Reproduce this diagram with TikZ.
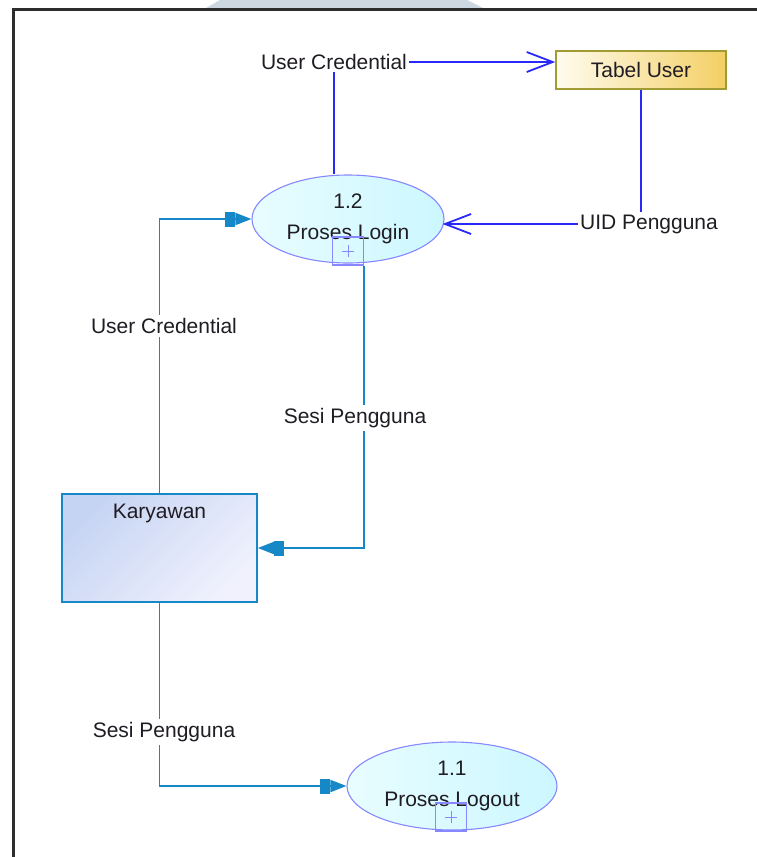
\documentclass[tikz,border=0pt]{standalone}
\usepackage{fontspec}
\setmainfont{Liberation Sans}
\usetikzlibrary{shapes.geometric,arrows.meta,calc}

\definecolor{flowblue}{RGB}{40,40,250}
\definecolor{flowteal}{RGB}{22,136,200}
\definecolor{inkdark}{RGB}{32,28,36}
\definecolor{procedge}{RGB}{135,135,255}
\definecolor{frameink}{RGB}{45,45,45}
\definecolor{capgray}{RGB}{205,215,225}

\tikzset{
  lbl/.style={font=\fontsize{21}{25}\selectfont, text=inkdark, inner sep=2pt},
  lblw/.style={lbl, fill=white, inner sep=3pt},
  proc/.style={ellipse, draw=procedge, line width=1.1pt,
    left color={rgb,255:red,232;green,253;blue,255},
    right color={rgb,255:red,204;green,247;blue,255},
    minimum width=192pt, minimum height=88pt, inner sep=0pt,
    align=center, font=\fontsize{21}{31}\selectfont, text=inkdark},
  subbox/.style={draw=procedge, line width=1.1pt, inner sep=0pt,
    minimum width=31pt, minimum height=28pt,
    path picture={\draw[procedge, line width=1pt]
      ($(path picture bounding box.center)+(-6pt,0pt)$) -- ++(12pt,0pt)
      ($(path picture bounding box.center)+(0pt,-6pt)$) -- ++(0pt,12pt);}},
  store/.style={draw={rgb,255:red,160;green,155;blue,50}, line width=1.6pt,
    left color={rgb,255:red,255;green,252;blue,238},
    right color={rgb,255:red,243;green,207;blue,100},
    minimum width=170pt, minimum height=38pt, inner sep=0pt,
    font=\fontsize{21}{25}\selectfont, text=inkdark},
  entity/.style={draw=flowteal, line width=1.6pt,
    top color={rgb,255:red,198;green,212;blue,243},
    bottom color={rgb,255:red,240;green,241;blue,253},
    shading angle=45,
    minimum width=195pt, minimum height=108pt, inner sep=0pt},
  dataflow/.style={draw=flowblue, line width=1.8pt,
    -{Straight Barb[length=26pt,width=20pt]}},
  dataline/.style={draw=flowblue, line width=1.8pt},
  tealflow/.style={draw=flowteal, line width=1.8pt,
    -{Rectangle[length=10pt,width=15pt] Triangle[length=16pt,width=12pt]}},
}

\begin{document}
\begin{tikzpicture}[x=1pt,y=-1pt]
\useasboundingbox (0,0) rectangle (756,857);

% header tab and sheet frame
\fill[capgray] (220,0) -- (467,0) -- (483,8) -- (206,8) -- cycle;
\draw[frameink, line width=3pt] (13,857) -- (13,9) -- (757,9);

% processes, store and entity
\node[proc] (login) at (348,219) {\raisebox{-2pt}{1.2}\\\raisebox{-2pt}{Proses Login}};
\node[subbox] (loginsub) at (348,251) {};
\node[proc, minimum width=210pt] (logout) at (452,786) {\raisebox{-2pt}{1.1}\\\raisebox{-2pt}{Proses Logout}};
\node[subbox] (logoutsub) at (451,817) {};
\node[store] (tabel) at (641,70) {Tabel User};
\node[entity, label={[lbl, anchor=north, yshift=-9pt]north:Karyawan}] (kary) at (159.5,548) {};

% end labels of the data flows
\node[lbl] (uc1) at (334,62) {User Credential};
\node[lbl] (uid) at (649,224) {UID Pengguna};

% data flows
\draw[dataflow] (uc1.east) -- (uc1.east -| tabel.west);
\draw[dataline] (uc1.south) -- (uc1.south |- login.north);
\draw[dataline] (tabel.south) -- (tabel.south |- uid.north);
\draw[dataflow] (uid.west) -- ($(uid.west -| login.east)+(-2,0)$);

\draw[tealflow] (kary.north) |- (login.west);
\draw[tealflow] (loginsub.south east) |- (kary.east);
\draw[tealflow] (kary.south) |- (logout.west);

% labels sitting on the flows
\node[lblw] (uc2) at (164,326) {User Credential};
\node[lblw] (sesi1) at (355,418) {Sesi Pengguna};
\node[lblw] (sesi2) at (164,732) {Sesi Pengguna};
\end{tikzpicture}
\end{document}
